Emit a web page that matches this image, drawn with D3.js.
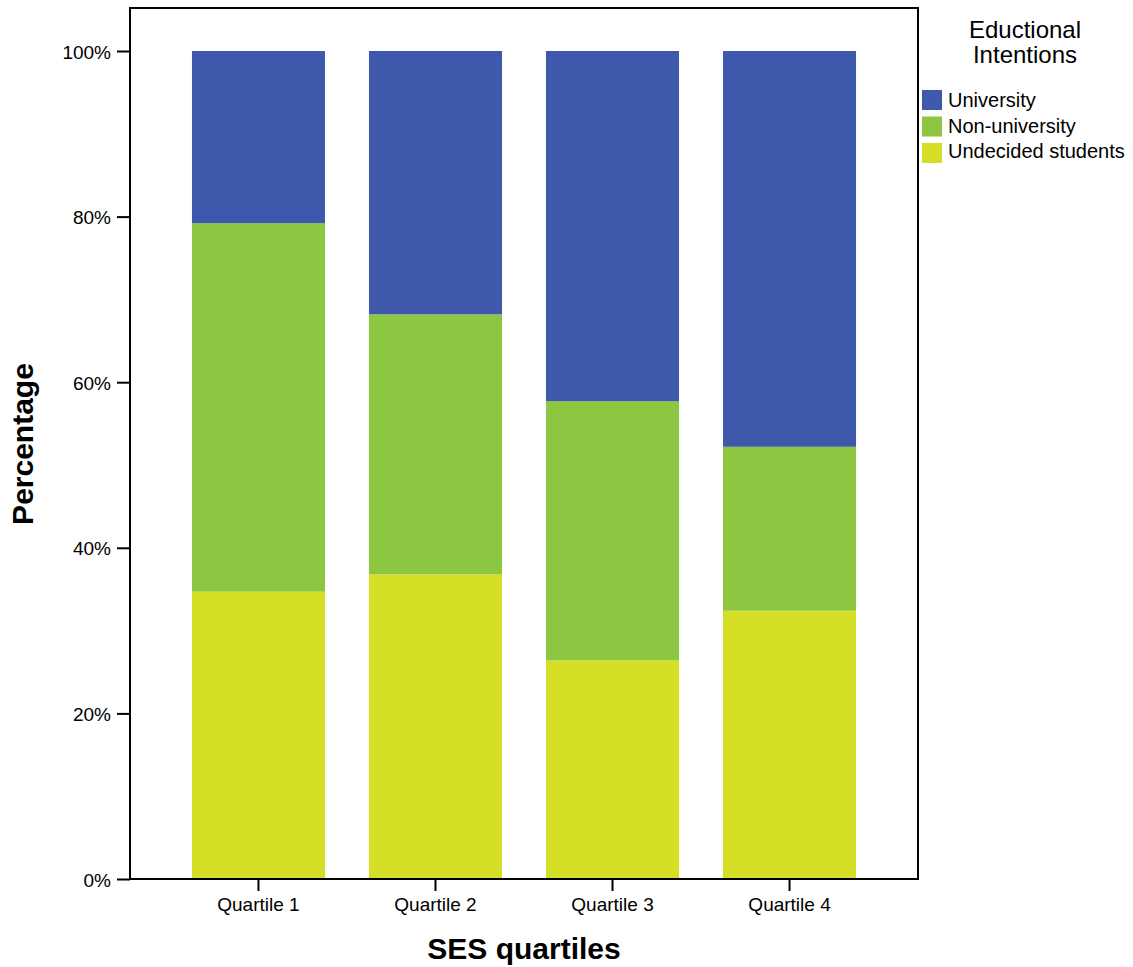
<!DOCTYPE html>
<html><head><meta charset="utf-8">
<script src="https://cdn.jsdelivr.net/npm/d3@7"></script>
<style>body{margin:0;background:#fff}svg{font-family:Arial,"Liberation Sans",sans-serif}</style>
</head><body><svg id="c" width="1133" height="967"></svg>
<script>
const categories = ["Quartile 1","Quartile 2","Quartile 3","Quartile 4"];
const undecided = [34.7, 36.8, 26.4, 32.4];
const nonUniversity = [44.5, 31.4, 31.3, 19.8];
const university = [20.8, 31.8, 42.3, 47.8];
const seriesNames = ["Undecided students","Non-university","University"];
const seriesColors = ["#D4DF26","#8DC641","#3E59AC"];
const yTicks = [0,20,40,60,80,100];

const svg = d3.select("#c");
const L=130, R=918, T=8, B=879;
const x = d3.scaleBand().domain(categories).range([L,R]).paddingInner(0.2486).paddingOuter(0.35);
const y = d3.scaleLinear().domain([0,100]).range([B,51]);

const rows = categories.map((c,i)=>({cat:c,"Undecided students":undecided[i],"Non-university":nonUniversity[i],"University":university[i]}));
const stack = d3.stack().keys(seriesNames)(rows);
svg.append("g").selectAll("g").data(stack).join("g").attr("fill",(d,i)=>seriesColors[i])
  .selectAll("rect").data(d=>d).join("rect")
  .attr("x",d=>x(d.data.cat)).attr("width",x.bandwidth())
  .attr("y",d=>y(d[1])).attr("height",d=>y(d[0])-y(d[1]));

// frame
svg.append("rect").attr("x",L).attr("y",T).attr("width",R-L).attr("height",B-T)
  .attr("fill","none").attr("stroke","#000").attr("stroke-width",2);

const ya = svg.append("g").attr("transform",`translate(${L},0)`)
  .call(d3.axisLeft(y).tickValues(yTicks).tickFormat(d=>d+"%").tickSize(13).tickSizeOuter(0));
ya.select(".domain").remove();
ya.selectAll("line").attr("stroke","#000").attr("stroke-width",2);
ya.selectAll("text").attr("font-size",19).attr("fill","#000").attr("x",-19).attr("dy","0.37em");

const xa = svg.append("g").attr("transform",`translate(0,${B})`)
  .call(d3.axisBottom(x).tickSize(12).tickSizeOuter(0));
xa.select(".domain").remove();
xa.selectAll("line").attr("stroke","#000").attr("stroke-width",2);
xa.selectAll("text").attr("font-size",19).attr("fill","#000").attr("y",32).attr("dy",0);

svg.append("text").attr("transform","translate(33,444) rotate(-90)").attr("text-anchor","middle")
  .attr("font-size",30).attr("font-weight","bold").text("Percentage");
svg.append("text").attr("x",524).attr("y",959).attr("text-anchor","middle")
  .attr("font-size",30).attr("font-weight","bold").text("SES quartiles");

// legend
const lg = svg.append("g");
lg.append("text").attr("x",1025).attr("y",38).attr("text-anchor","middle").attr("font-size",24).text("Eductional");
lg.append("text").attr("x",1025).attr("y",63).attr("text-anchor","middle").attr("font-size",24).text("Intentions");
const legendOrder = [2,1,0];
legendOrder.forEach((si,k)=>{
  lg.append("rect").attr("x",922).attr("y",90+k*26.5).attr("width",20).attr("height",20).attr("fill",seriesColors[si]);
  lg.append("text").attr("x",948).attr("y",107+k*25.5).attr("font-size",20).text(seriesNames[si]);
});
</script></body></html>
